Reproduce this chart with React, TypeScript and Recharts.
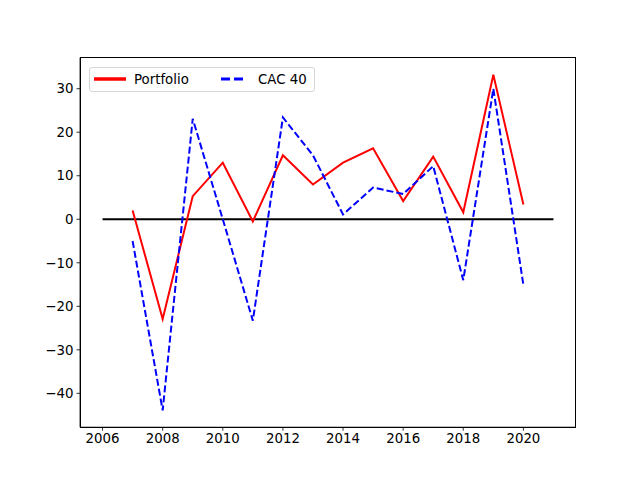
import React from "react";
import { LineChart, Line, XAxis, YAxis, Legend } from "recharts";

const years = [2007, 2008, 2009, 2010, 2011, 2012, 2013, 2014, 2015, 2016, 2017, 2018, 2019, 2020];
const portfolio = [2.0, -22.9, 5.3, 13.0, -0.5, 14.7, 8.0, 13.0, 16.3, 4.2, 14.4, 1.6, 33.2, 3.4];
const cac40 = [-5.0, -43.9, 23.1, 0.0, -23.3, 23.4, 14.7, 1.1, 7.3, 5.8, 12.2, -14.0, 30.0, -15.1];
const zeroLineX = [2006, 2021];
const xTicks = [2006, 2008, 2010, 2012, 2014, 2016, 2018, 2020];
const yTicks = [-40, -30, -20, -10, 0, 10, 20, 30];

const data = years.map((y, i) => ({ year: y, portfolio: portfolio[i], cac: cac40[i] }));
const zeroData = zeroLineX.map((x) => ({ year: x, zero: 0 }));

const FONT = "DejaVu Sans";
const fmt = (v: number) => String(v).replace("-", "\u2212");

const LegendBox = () => (
  <div
    style={{
      position: "absolute",
      left: 89,
      top: 67,
      width: 226,
      height: 25,
      boxSizing: "border-box",
      border: "1px solid #d6d6d6",
      borderRadius: 3,
      background: "rgba(255,255,255,0.8)",
    }}
  >
    <svg width={226} height={25} style={{ position: "absolute", left: -1, top: -1 }}>
      <line x1={5} y1={12} x2={37} y2={12} stroke="#ff0000" strokeWidth={3.5} />
      <text x={45} y={16.5} fontFamily={FONT} fontSize={13.33} fill="#000">Portfolio</text>
      <line x1={132} y1={12} x2={158} y2={12} stroke="#0000ff" strokeWidth={3} strokeDasharray="9 4" />
      <text x={169} y={16.5} fontFamily={FONT} fontSize={13.33} fill="#000">CAC 40</text>
    </svg>
  </div>
);

export default function App() {
  return (
    <div style={{ position: "absolute", left: 0, top: 0, width: 640, height: 480, background: "#fff" }}>
      <LineChart
        width={640}
        height={480}
        data={data}
        margin={{ top: 57.6, right: 64, bottom: 0, left: 0 }}
      >
        <XAxis
          dataKey="year"
          type="number"
          domain={[2005.25, 2021.75]}
          ticks={xTicks}
          allowDataOverflow
          height={52.8}
          tickSize={3.5}
          tickMargin={3}
          stroke="#000"
          axisLine={{ stroke: "#000", strokeWidth: 0.8 }}
          tickLine={{ stroke: "#000", strokeWidth: 0.8 }}
          tick={{ fill: "#000", fontSize: 13.33, fontFamily: FONT }}
        />
        <YAxis
          type="number"
          domain={[-47.78, 37.15]}
          ticks={yTicks}
          allowDataOverflow
          width={80}
          tickSize={3.5}
          tickMargin={3}
          tickFormatter={fmt}
          axisLine={{ stroke: "#000", strokeWidth: 0.8 }}
          tickLine={{ stroke: "#000", strokeWidth: 0.8 }}
          tick={{ fill: "#000", fontSize: 13.33, fontFamily: FONT }}
        />
        <Line
          data={zeroData}
          dataKey="zero"
          stroke="#000"
          strokeWidth={2}
          dot={false}
          isAnimationActive={false}
          legendType="none"
        />
        <Line
          dataKey="portfolio"
          stroke="#ff0000"
          strokeWidth={2}
          dot={false}
          isAnimationActive={false}
        />
        <Line
          dataKey="cac"
          stroke="#0000ff"
          strokeWidth={2}
          strokeDasharray="7 3"
          dot={false}
          isAnimationActive={false}
        />
        <Legend content={() => null} />
      </LineChart>
      <div
        style={{
          position: "absolute",
          left: 79.6,
          top: 57.2,
          width: 496.8,
          height: 370.4,
          boxSizing: "border-box",
          border: "0.8px solid #000",
          pointerEvents: "none",
        }}
      />
      <LegendBox />
    </div>
  );
}
